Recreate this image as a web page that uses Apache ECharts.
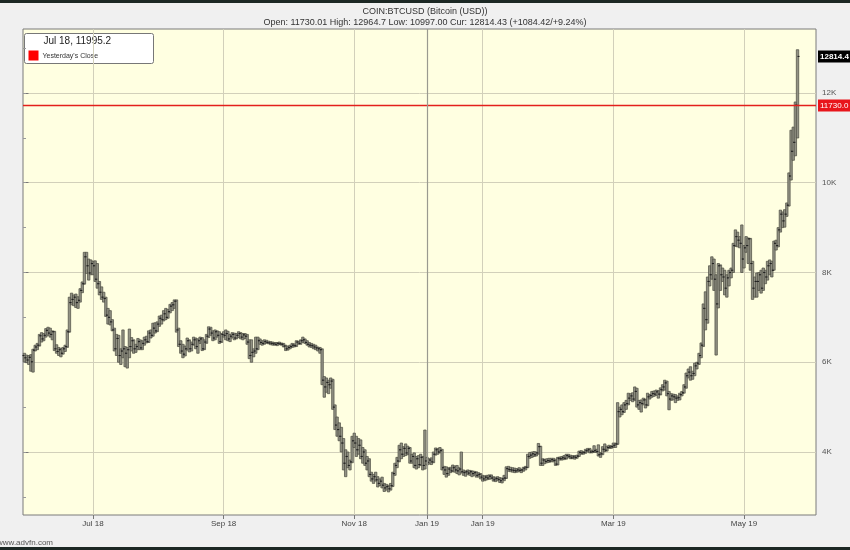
<!DOCTYPE html>
<html>
<head>
<meta charset="utf-8">
<script src="https://cdn.jsdelivr.net/npm/echarts@6/dist/echarts.min.js"></script>
<style>
html,body{margin:0;padding:0;background:#f0f0f0;}
#c{width:850px;height:550px;}
</style>
</head>
<body>
<div id="c"></div>
<script>
// Daily OHLC bars [open, high, low, close], first bar = 30 Jun 2018
const jul18 = [[6150,6200,6010,6100],[6100,6160,5990,6050],[6050,6150,5950,6110],[6110,6170,5800,6010],[6010,6290,5780,6270],
[6270,6380,6250,6340],[6340,6420,6280,6380],[6380,6620,6360,6590],[6590,6660,6450,6520],[6520,6640,6480,6600],
[6600,6750,6560,6710],[6710,6780,6600,6650],[6650,6760,6560,6620],[6620,6700,6500,6680],[6680,6690,6260,6300],
[6300,6390,6200,6240],[6240,6330,6150,6280],[6280,6310,6120,6200],[6200,6330,6180,6300],[6300,6380,6240,6350],
[6350,6720,6330,6680],[6680,7450,6670,7330],[7330,7540,7280,7400],[7400,7500,7260,7450],[7450,7520,7220,7330],
[7330,7460,7200,7380],[7380,7640,7340,7600],[7600,7790,7550,7750],[7750,8450,7740,8350],[8350,8450,7980,8150],
[8150,8300,7830,7990],[7990,8280,7950,8200]];
const aug18 = [[8200,8250,7950,8150],[8150,8260,7800,7850],[7850,8200,7650,7750],[7750,7800,7500,7560],[7560,7680,7400,7450],
[7450,7560,7340,7420],[7420,7450,7020,7050],[7050,7200,6850,7000],[7000,7150,6830,6900],[6900,6950,6700,6720],
[6720,6760,6250,6300],[6300,6620,6150,6530],[6530,6600,6000,6150],[6150,6300,5950,6250],[6250,6720,6100,6300],
[6300,6350,5900,6200],[6200,6330,5870,6280],[6280,6740,6100,6350],[6350,6550,6250,6480],[6480,6500,6200,6300],
[6300,6400,6220,6350],[6350,6530,6280,6460],[6460,6500,6280,6320],[6320,6480,6280,6420],[6420,6560,6380,6500],
[6500,6580,6430,6460],[6460,6700,6440,6650],[6650,6720,6540,6600],[6600,6870,6580,6760],[6760,6880,6650,6700],
[6700,6900,6680,6850]];
const sep18 = [[6850,7030,6800,6980],[6980,7050,6850,6950],[6950,7150,6920,7080],[7080,7200,6950,7000],[7000,7180,6980,7130],
[7130,7290,7100,7250],[7250,7330,7150,7280],[7280,7390,7200,7360],[7360,7390,6670,6720],[6720,6760,6350,6400],
[6400,6480,6200,6250],[6250,6400,6100,6180],[6180,6360,6140,6300],[6300,6540,6270,6480],[6480,6500,6230,6300],
[6300,6450,6250,6400],[6400,6560,6380,6500],[6500,6540,6300,6350],[6350,6520,6200,6480],[6480,6560,6420,6520],
[6520,6550,6260,6300],[6300,6500,6280,6450],[6450,6620,6420,6580],[6580,6790,6550,6740],[6740,6780,6600,6650],
[6650,6700,6480,6540],[6540,6720,6500,6680],[6680,6700,6560,6600],[6600,6680,6420,6460],[6460,6640,6440,6620]];
const oct18 = [[6620,6680,6560,6600],[6600,6720,6500,6640],[6640,6690,6480,6520],[6520,6620,6460,6580],[6580,6660,6540,6620],
[6620,6650,6500,6540],[6540,6640,6520,6600],[6600,6680,6550,6640],[6640,6660,6520,6560],[6560,6640,6500,6610],
[6610,6640,6530,6580],[6580,6620,6400,6450],[6450,6500,6080,6150],[6150,6500,6000,6220],[6220,6300,6120,6250],
[6250,6560,6200,6300],[6300,6560,6280,6480],[6480,6520,6400,6440],[6440,6480,6380,6420],[6420,6500,6400,6460],
[6460,6490,6420,6440],[6440,6470,6410,6430],[6430,6460,6390,6420],[6420,6450,6380,6410],[6410,6440,6380,6400],
[6400,6440,6370,6420],[6420,6450,6390,6410],[6410,6430,6380,6400],[6400,6420,6340,6360],[6360,6380,6260,6300],
[6300,6360,6270,6330]];
const nov18 = [[6330,6380,6300,6350],[6350,6420,6330,6380],[6380,6410,6340,6370],[6370,6480,6350,6450],[6450,6470,6400,6420],
[6420,6500,6400,6480],[6480,6560,6440,6500],[6500,6520,6420,6440],[6440,6480,6380,6400],[6400,6440,6340,6380],
[6380,6420,6330,6370],[6370,6400,6300,6340],[6340,6380,6280,6320],[6320,6340,6250,6300],[6300,6330,6200,6280],
[6280,6300,5500,5600],[5600,5680,5220,5450],[5450,5650,5330,5550],[5550,5600,5300,5500],[5500,5650,5420,5580],
[5580,5620,4950,5000],[5000,5050,4500,4600],[4600,4780,4350,4500],[4500,4650,4250,4350],[4350,4550,4000,4200],
[4200,4300,3600,3750],[3750,4050,3450,3900],[3900,4000,3650,3700],[3700,3820,3600,3780],[3780,4350,3760,4250]];
const dec18 = [[4250,4420,4100,4200],[4200,4350,3900,4050],[4050,4300,3950,4150],[4150,4270,3850,3900],[3900,4100,3750,4000],
[4000,4050,3700,3750],[3750,3900,3600,3800],[3800,3850,3450,3500],[3500,3550,3350,3400],[3400,3500,3300,3450],
[3450,3550,3350,3380],[3380,3450,3220,3300],[3300,3400,3250,3350],[3350,3440,3200,3260],[3260,3300,3120,3200],
[3200,3280,3150,3230],[3230,3260,3110,3180],[3180,3300,3150,3250],[3250,3550,3230,3520],[3520,3750,3480,3700],
[3700,3880,3650,3800],[3800,4150,3780,4050],[4050,4200,3850,3950],[3950,4120,3900,4080],[4080,4180,3920,3980],
[3980,4130,3940,4080],[4080,4100,3750,3800],[3800,3950,3750,3900],[3900,3980,3650,3700],[3700,3900,3620,3850],
[3850,3920,3650,3720]];
const jan19 = [[3720,3950,3700,3880],[3880,3900,3600,3700],[3700,4490,3620,3800],[3800,3880,3710,3770],[3770,3850,3730,3820],
[3820,3870,3720,3780],[3780,4000,3760,3950],[3950,4090,3930,4050],[4050,4080,3950,4000],[4000,4100,3980,4030],
[4030,4060,3600,3650],[3650,3680,3500,3600],[3600,3670,3440,3520],[3520,3650,3480,3620],[3620,3660,3540,3580],
[3580,3710,3560,3650],[3650,3690,3550,3600],[3600,3700,3520,3580],[3580,3650,3490,3620],[3620,4000,3530,3560],
[3560,3600,3480,3540],[3540,3580,3460,3560],[3560,3600,3500,3530],[3530,3590,3480,3560],[3560,3580,3450,3520],
[3520,3570,3480,3540],[3540,3560,3440,3480],[3480,3540,3440,3500],[3500,3520,3400,3440],[3440,3480,3350,3400],
[3400,3470,3360,3440]];
const feb19 = [[3440,3480,3380,3420],[3420,3490,3390,3460],[3460,3490,3400,3420],[3420,3450,3350,3380],[3380,3440,3340,3410],
[3410,3450,3360,3390],[3390,3430,3320,3360],[3360,3420,3310,3400],[3400,3480,3360,3420],[3420,3670,3410,3630],
[3630,3680,3570,3610],[3610,3660,3560,3600],[3600,3650,3550,3590],[3590,3640,3540,3580],[3580,3630,3550,3600],
[3600,3650,3560,3590],[3590,3620,3540,3600],[3600,3660,3570,3640],[3640,3680,3600,3660],[3660,3950,3650,3900],
[3900,3990,3860,3930],[3930,4000,3880,3960],[3960,4010,3900,3940],[3940,4000,3910,3980],[3980,4190,3950,4120],
[4120,4130,3700,3750],[3750,3850,3700,3820],[3820,3840,3740,3790]];
const mar19 = [[3790,3850,3760,3810],[3810,3860,3770,3800],[3800,3860,3780,3830],[3830,3860,3780,3810],[3810,3840,3700,3730],
[3730,3880,3710,3860],[3860,3890,3820,3850],[3850,3900,3820,3870],[3870,3920,3830,3860],[3860,3950,3840,3920],
[3920,3950,3870,3900],[3900,3930,3850,3870],[3870,3920,3850,3890],[3890,3920,3840,3880],[3880,3930,3860,3910],
[3910,4020,3900,3990],[3990,4030,3950,3980],[3980,4010,3950,3990],[3990,4060,3970,4030],[4030,4080,4000,4050],
[4050,4080,3980,4000],[4000,4040,3980,4010],[4010,4140,3990,4030],[4030,4060,3990,4010],[4010,4160,3910,3940],
[3940,3990,3880,3960],[3960,4120,3940,4060],[4060,4180,4010,4040],[4040,4130,4020,4100],[4100,4150,4080,4110],
[4110,4140,4080,4120]];
const apr19 = [[4120,4200,4100,4150],[4150,4200,4100,4180],[4180,5100,4170,4900],[4900,5000,4780,4950],[4950,5050,4830,4900],
[4900,5100,4880,5050],[5050,5150,4950,5080],[5080,5310,5050,5200],[5200,5300,5150,5250],[5250,5320,5120,5180],
[5180,5450,5150,5350],[5350,5420,5000,5050],[5050,5150,4950,5100],[5100,5160,4890,5080],[5080,5200,5050,5160],
[5160,5180,4980,5050],[5050,5310,5030,5230],[5230,5280,5180,5260],[5260,5350,5220,5300],[5300,5360,5240,5290],
[5290,5380,5260,5340],[5340,5370,5200,5290],[5290,5430,5270,5390],[5390,5500,5360,5450],[5450,5600,5380,5540],
[5540,5580,5250,5300],[5300,5350,4940,5180],[5180,5300,5150,5250],[5250,5290,5160,5230],[5230,5280,5100,5200]];
const may19 = [[5200,5250,5150,5210],[5210,5310,5160,5280],[5280,5350,5250,5320],[5320,5500,5310,5450],[5450,5760,5420,5700],
[5700,5850,5650,5780],[5780,5900,5600,5700],[5700,5800,5620,5750],[5750,5980,5700,5920],[5920,6000,5850,5980],
[5980,6200,5950,6150],[6150,6430,6100,6380],[6380,7300,6350,7200],[7200,7570,6720,6950],[6950,7900,6870,7800],
[7800,8150,7700,7950],[7950,8350,7850,8200],[8200,8300,7600,7850],[7850,7950,6160,7300],[7300,8200,7210,8150],
[8150,8170,7600,7950],[7950,8100,7800,7900],[7900,8050,7500,7650],[7650,7950,7450,7880],[7880,8050,7700,8000],
[8000,8100,7880,8050],[8050,8650,8000,8600],[8600,8950,8580,8800],[8800,8900,8570,8720],[8720,8800,8550,8650],
[8650,9060,8000,8300]];
const jun19 = [[8300,8600,8100,8550],[8550,8800,8450,8600],[8600,8770,8200,8750],[8750,8760,8050,8200],[8200,8250,7400,7650],
[7650,7900,7450,7800],[7800,7990,7450,7800],[7800,8000,7600,7950],[7950,8050,7540,7650],[7650,8100,7600,8000],
[8000,8050,7750,7900],[7900,8250,7830,8150],[8150,8280,7950,8200],[8200,8250,7900,8050],[8050,8700,8050,8650],
[8650,8720,8500,8600],[8600,9000,8570,8950],[8950,9390,8900,9300],[9300,9350,9000,9150],[9150,9400,9010,9300],
[9300,9550,9250,9500],[9500,10220,9480,10150],[10150,11170,10060,10700],[10700,11240,10500,10900],[10900,11800,10600,11730],
[11730.01,12964.7,10997,12814.43]];

// x-axis tick positions (bar index) and labels
const xTickIdx = [32, 93, 154, 188, 214, 275, 336];
const xTickLabels = ['Jul 18', 'Sep 18', 'Nov 18', 'Jan 19', 'Jan 19', 'Mar 19', 'May 19'];
// y-axis ticks
const yTickVals = [4000, 6000, 8000, 10000, 12000];
const yTickLabels = ['4K', '6K', '8K', '10K', '12K'];
const yMinorTicks = [3000, 4000, 5000, 6000, 7000, 8000, 9000, 10000, 11000, 12000, 13000];
// price markers: [value, label, kind]  kind 0 = yesterday's close (red line), 1 = current price
const markerValues = [11730.01, 12814.43];
const markerLabels = ['11730.0', '12814.4'];
// header texts
const titleText = 'COIN:BTCUSD (Bitcoin (USD))';
const subText = 'Open: 11730.01 High: 12964.7 Low: 10997.00 Cur: 12814.43 (+1084.42/+9.24%)';
const legendValue = 'Jul 18, 11995.2';
const legendLabel = "Yesterday's Close";

const allBars = [].concat(jul18, aug18, sep18, oct18, nov18, dec18, jan19, feb19, mar19, apr19, may19, jun19);
const ohlc = allBars.map((b, i) => [i, b[0], b[1], b[2], b[3]]);
const markers = markerValues.map((v, i) => [allBars.length - 1, v, i]);

const chart = echarts.init(document.getElementById('c'));
const FONT = '"Liberation Sans", Arial, sans-serif';

chart.setOption({
  animation: false,
  backgroundColor: '#f0f0f0',
  textStyle: { fontFamily: FONT },
  title: {
    text: titleText, subtext: subText, left: 'center', top: 2, itemGap: 2,
    textStyle: { fontSize: 9, fontWeight: 'normal', color: '#333', fontFamily: FONT },
    subtextStyle: { fontSize: 9, color: '#333', fontFamily: FONT }
  },
  grid: { left: 23, right: 34, top: 29, bottom: 35, show: true, backgroundColor: '#ffffe1', borderColor: '#7a7a7a', borderWidth: 1 },
  xAxis: {
    type: 'value', min: -0.69, max: 369.63,
    axisLine: { show: false },
    axisTick: { show: true, customValues: xTickIdx, length: 4, lineStyle: { color: '#777' } },
    axisLabel: { customValues: xTickIdx, fontSize: 8, color: '#444', margin: 5,
      formatter: v => xTickLabels[xTickIdx.indexOf(Math.round(v))] || '' },
    splitLine: { show: true, lineStyle: { color: '#d2d0ba', width: 1 } }
  },
  yAxis: [{
    type: 'value', position: 'right', min: 2596, max: 13426,
    axisLine: { show: false },
    axisTick: { show: true, customValues: yTickVals, length: 4, lineStyle: { color: '#777' } },
    axisLabel: { customValues: yTickVals, fontSize: 8, color: '#555', margin: 6,
      formatter: v => yTickLabels[yTickVals.indexOf(v)] || '' },
    splitLine: { show: true, lineStyle: { color: '#d2d0ba', width: 1 } }
  }, {
    type: 'value', position: 'left', min: 2596, max: 13426,
    axisLine: { show: false },
    axisTick: { show: true, inside: true, customValues: yMinorTicks, length: 3, lineStyle: { color: '#999' } },
    axisLabel: { show: false },
    splitLine: { show: false }
  }],
  series: [{
    type: 'line', data: [], z: 1, silent: true,
    markLine: {
      silent: true, symbol: 'none', animation: false, label: { show: false },
      lineStyle: { color: '#9a9a90', width: 1.2, type: 'solid' },
      data: [{ xAxis: xTickIdx[3] }]
    }
  }, {
    type: 'custom', z: 2, data: ohlc, encode: { x: 0, y: [1, 2, 3, 4] },
    renderItem: function (params, api) {
      const d = api.value(0);
      const pH = api.coord([d, api.value(2)]);
      const pL = api.coord([d, api.value(3)]);
      const pO = api.coord([d, api.value(1)]);
      const pC = api.coord([d, api.value(4)]);
      const x = pH[0];
      return { type: 'group', children: [
        { type: 'rect', shape: { x: x - 1.2, y: pH[1], width: 2.4, height: Math.max(pL[1] - pH[1], 1.5) },
          style: { fill: '#929285', stroke: '#4a4a40', lineWidth: 0.7 } },
        { type: 'line', shape: { x1: x - 2, y1: pO[1], x2: x, y2: pO[1] }, style: { stroke: '#222', lineWidth: 1.1 } },
        { type: 'line', shape: { x1: x, y1: pC[1], x2: x + 2, y2: pC[1] }, style: { stroke: '#222', lineWidth: 1.1 } }
      ] };
    }
  }, {
    type: 'custom', z: 3, clip: false, silent: true, data: markers, encode: { x: 0, y: 1 },
    renderItem: function (params, api) {
      const cs = params.coordSys;
      const y = Math.round(api.coord([api.value(0), api.value(1)])[1]) + 0.5;
      const kind = api.value(2);
      const right = cs.x + cs.width;
      const children = [];
      if (kind === 0) {
        children.push({ type: 'line', shape: { x1: cs.x, y1: y, x2: right, y2: y }, style: { stroke: '#e3201c', lineWidth: 1.3 } });
      }
      children.push({ type: 'rect', shape: { x: right + 2, y: y - 6, width: 40, height: 12 },
        style: { fill: kind === 0 ? '#e8151b' : '#000' } });
      children.push({ type: 'text', x: right + 4, y: y + 0.5,
        style: { text: markerLabels[kind], fill: '#fff', fontSize: 8, fontWeight: kind === 0 ? 'normal' : 'bold',
          fontFamily: FONT, verticalAlign: 'middle', align: 'left' } });
      return { type: 'group', children: children };
    }
  }],
  graphic: [
    { type: 'rect', left: 0, top: 0, shape: { width: 850, height: 3 }, style: { fill: '#1c2824' }, z: 100 },
    { type: 'rect', left: 0, top: 547, shape: { width: 850, height: 3 }, style: { fill: '#1c2824' }, z: 100 },
    { type: 'text', left: -3, top: 539, style: { text: 'www.advfn.com', fontSize: 8, fill: '#555', fontFamily: FONT }, z: 100 },
    { type: 'group', left: 24, top: 33, z: 100, children: [
      { type: 'rect', shape: { x: 0, y: 0, width: 129, height: 30, r: 2 }, style: { fill: '#fff', stroke: '#777', lineWidth: 1 } },
      { type: 'text', x: 19, y: 3, style: { text: legendValue, fontSize: 10, fill: '#222', fontFamily: FONT } },
      { type: 'rect', shape: { x: 4, y: 17, width: 10, height: 10 }, style: { fill: '#ff0000' } },
      { type: 'text', x: 18, y: 19, style: { text: legendLabel, fontSize: 7, fill: '#333', fontFamily: FONT } }
    ] }
  ]
});
</script>
</body>
</html>
